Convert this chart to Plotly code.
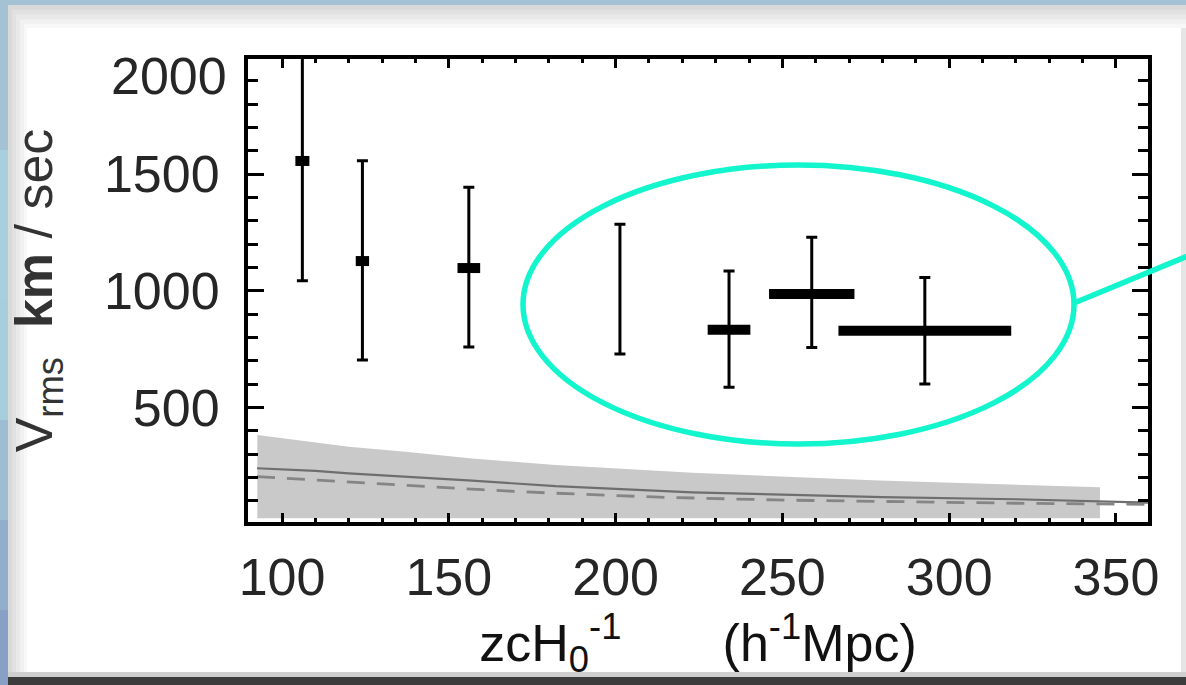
import plotly.graph_objects as go

# ---------------- data ----------------
pt_x = [106.1, 124.1, 156.0, 201.3, 234.0, 258.8, 292.7]
pt_y = [1556, 1127, 1097, 1000, 833, 986, 828]
pt_y_upper = [2150, 1557, 1443, 1285, 1084, 1229, 1057]
pt_y_lower = [1043, 703, 759, 729, 586, 757, 600]
pt_x_half = [2.1, 2.0, 3.4, 0.0, 6.4, 12.8, 25.9]

band_x = [92.6, 104, 120, 137, 157, 182, 223, 279, 345.2]
band_upper = [381, 360, 331, 310, 281, 253, 220, 186, 158]
band_lower = [25, 25, 25, 25, 25, 25, 25, 25, 25]

solid_x = [92.5, 110, 120, 137, 157, 182, 223, 280, 320, 359.6]
solid_y = [239, 228, 217, 203, 186, 162, 136, 115, 106, 92]
dash_x = [92.5, 125, 141, 160, 180, 213, 248, 275, 320, 359.6]
dash_y = [203, 176, 162, 147, 133, 115, 103, 97, 89, 84]

x_range = [89.8, 359.6]
y_range = [8.6, 1993]
y_tickvals = [500, 1000, 1500]
top_label = "2000"

# ---------------- geometry helpers (page px -> paper) ----------------
W, H = 1186, 685
L, R, T, B = 248, 1148, 59, 522
def X(px):
    return (px - L) / (R - L)
def Y(py):
    return (B - py) / (B - T)

FONT = "Liberation Sans, Arial, sans-serif"

fig = go.Figure()

# gray band
fig.add_trace(go.Scatter(
    x=band_x + band_x[::-1], y=band_upper + band_lower[::-1],
    fill="toself", fillcolor="#c9c9c9", line=dict(width=0),
    mode="lines", hoverinfo="skip", showlegend=False))

# lines
fig.add_trace(go.Scatter(x=solid_x, y=solid_y, mode="lines",
                         line=dict(color="#6e6e6e", width=2.2), showlegend=False))
fig.add_trace(go.Scatter(x=dash_x, y=dash_y, mode="lines",
                         line=dict(color="#858585", width=2.8, dash="18px,12px"),
                         showlegend=False))

# data points with error bars
fig.add_trace(go.Scatter(
    x=pt_x, y=pt_y, mode="markers",
    marker=dict(size=1, color="black", opacity=0),
    error_y=dict(type="data", symmetric=False,
                 array=[u - y for u, y in zip(pt_y_upper, pt_y)],
                 arrayminus=[y - l for l, y in zip(pt_y_lower, pt_y)],
                 color="black", thickness=3, width=5.5),
    error_x=dict(type="data", array=pt_x_half, color="black",
                 thickness=10, width=0),
    showlegend=False))

shapes = []
# frame / background
shapes.append(dict(type="rect", xref="paper", yref="paper", layer="below",
                   x0=X(8), x1=X(W), y0=Y(5), y1=Y(672),
                   fillcolor="#d9d9d9", line=dict(width=0)))
for off, col in [(4, "#e1e1e1"), (8, "#e9e9e9"), (12, "#f1f1f1"), (16, "#f8f8f8")]:
    shapes.append(dict(type="rect", xref="paper", yref="paper", layer="below",
                       x0=X(8 + off), x1=X(W), y0=Y(5 + off * 1.2), y1=Y(672),
                       fillcolor=col, line=dict(width=0)))
shapes.append(dict(type="rect", xref="paper", yref="paper", layer="below",
                   x0=X(27), x1=X(1181), y0=Y(28), y1=Y(672),
                   fillcolor="white", line=dict(width=0)))
shapes.append(dict(type="rect", xref="paper", yref="paper", layer="below",
                   x0=X(1181), x1=X(W), y0=Y(28), y1=Y(672),
                   fillcolor="#e6e6e6", line=dict(width=0)))
shapes.append(dict(type="rect", xref="paper", yref="paper", layer="below",
                   x0=X(8), x1=X(W), y0=Y(672), y1=Y(677),
                   fillcolor="#cfcfcf", line=dict(width=0)))
shapes.append(dict(type="rect", xref="paper", yref="paper", layer="below",
                   x0=X(8), x1=X(W), y0=Y(677), y1=Y(H),
                   fillcolor="#3c3c3c", line=dict(width=0)))
# left blue strip gradient segments
for y0, y1, col in [(0, 150, "#a3c3d4"), (150, 300, "#a8d0dc"), (300, 420, "#a6cfdb"),
                    (420, 520, "#9dbdd2"), (520, 610, "#91aecb"), (610, 685, "#889fc6")]:
    shapes.append(dict(type="rect", xref="paper", yref="paper", layer="below",
                       x0=X(0), x1=X(8), y0=Y(y0), y1=Y(y1),
                       fillcolor=col, line=dict(width=0)))
# cyan ellipse and pointer line
shapes.append(dict(type="circle", xref="paper", yref="paper", layer="above",
                   x0=X(523), x1=X(1074), y0=Y(165), y1=Y(444),
                   line=dict(color="#12f5cd", width=5.5)))
shapes.append(dict(type="line", xref="paper", yref="paper", layer="above",
                   x0=X(1074), x1=X(1190), y0=Y(303), y1=Y(255),
                   line=dict(color="#12f5cd", width=5.5)))

axis_common = dict(showgrid=False, zeroline=False, showline=True, linecolor="black",
                   linewidth=4, mirror="ticks", ticks="inside", tickcolor="black",
                   tickwidth=3, tickfont=dict(family=FONT, size=52, color="#262626"))

fig.update_layout(
    width=W, height=H, autosize=False,
    margin=dict(l=L, r=W - R, t=T, b=H - B, pad=0),
    paper_bgcolor="#a3c3d4", plot_bgcolor="white",
    shapes=shapes,
    xaxis=dict(range=x_range, tick0=0, dtick=50, ticklen=9,
               minor=dict(dtick=10, tick0=0, ticklen=4, ticks="inside",
                          tickcolor="black", tickwidth=3),
               ticklabelstandoff=7,
               title=dict(text="zcH<sub>0</sub><sup>-1</sup>       (h<sup>-1</sup>Mpc)",
                          font=dict(family=FONT, size=52, color="#111"),
                          standoff=14),
               **axis_common),
    yaxis=dict(range=y_range, tickvals=y_tickvals, ticklen=16,
               minor=dict(dtick=100, tick0=0, ticklen=10, ticks="inside",
                          tickcolor="black", tickwidth=3),
               ticklabelstandoff=14,
               title=dict(text="V<sub>rms</sub>  <b>km</b> / sec",
                          font=dict(family=FONT, size=52, color="#333"),
                          standoff=36),
               **axis_common),
    annotations=[dict(text=top_label, xref="paper", yref="paper",
                      x=X(229), y=Y(76), xanchor="right", yanchor="middle",
                      showarrow=False,
                      font=dict(family=FONT, size=52, color="#262626"))],
)

fig.write_html("out.html")
